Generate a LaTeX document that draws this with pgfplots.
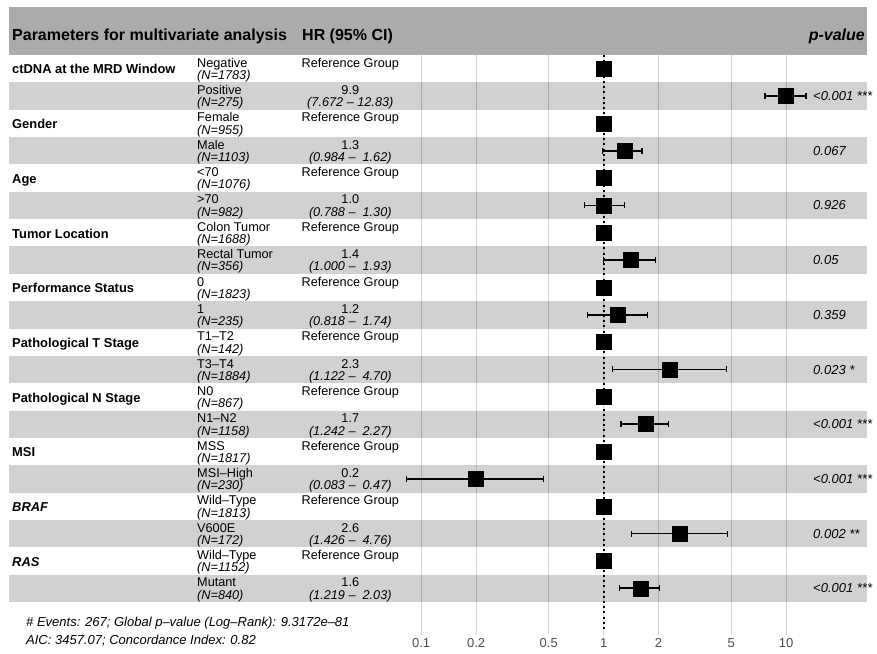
\documentclass[border=0pt]{standalone}
\usepackage{fontspec}
\setmainfont{Liberation Sans}
\usepackage{pgfplots}
\usepackage{pgfplotstable}
\pgfplotsset{compat=1.18}

\definecolor{headgray}{HTML}{ABABAB}
\definecolor{bandgray}{HTML}{D1D1D1}
\definecolor{ticktext}{HTML}{4D4D4D}

% hazard ratio estimates, one line per level (row 1 = top)
\pgfplotstableread{
row hr
1   1
2   9.9
3   1
4   1.3
5   1
6   1.0
7   1
8   1.4
9   1
10  1.2
11  1
12  2.3
13  1
14  1.7
15  1
16  0.2
17  1
18  2.6
19  1
20  1.6
}\hrdata

% layout helpers (1 unit = 1pt, rows 27.35pt tall starting at 55pt)
\newcommand\rt[1]{(55+27.35*(#1-1))}
\newcommand\rowfont{\fontsize{12.7}{14}\selectfont}
\newcommand\variable[2]{\node[anchor=base west,font=\fontsize{12.9}{14}\selectfont\bfseries,inner sep=0] at (12,{-\rt{#1}-18.9}) {#2};}
\newcommand\level[3]{%
  \node[anchor=base west,font=\rowfont,inner sep=0] at (197,{-\rt{#1}-12.2}) {#2};
  \node[anchor=base west,font=\rowfont\itshape,inner sep=0] at (197,{-\rt{#1}-24.5}) {(N=#3)};}
\newcommand\refgroup[1]{\node[anchor=base,font=\rowfont,inner sep=0] at (350.3,{-\rt{#1}-12.2}) {Reference Group};}
\newcommand\estimate[3]{%
  \node[anchor=base,font=\rowfont,inner sep=0] at (350.3,{-\rt{#1}-12.2}) {#2};
  \node[anchor=base,font=\rowfont\itshape,inner sep=0] at (350.3,{-\rt{#1}-24.5}) {(#3)};}
\newcommand\pval[2]{\node[anchor=base west,font=\fontsize{13}{14}\selectfont\itshape,inner sep=0] at (813,{-\rt{#1}-18.2}) {#2};}

\begin{document}
\begin{tikzpicture}[x=1pt,y=1pt]
\useasboundingbox (0,0) rectangle (877,-653);

% header and alternating row bands
\fill[headgray] (9,-7) rectangle (867,-55);
\foreach \i in {2,4,...,20} {
  \fill[bandgray] (9,{-\rt{\i}}) rectangle (867,{-\rt{\i}-27.35});
}

% column headers
\node[anchor=base west,font=\fontsize{16}{18}\selectfont\bfseries,inner sep=0] at (12,-40.7) {Parameters for multivariate analysis};
\node[anchor=base west,font=\fontsize{16}{18}\selectfont\bfseries,inner sep=0] at (302,-40.7) {HR (95\% CI)};
\node[anchor=base east,font=\fontsize{16}{18}\selectfont\bfseries\itshape,inner sep=0] at (865,-40.7) {p-value};

% variables
\variable{1}{ctDNA at the MRD Window}
\variable{3}{Gender}
\variable{5}{Age}
\variable{7}{Tumor Location}
\variable{9}{Performance Status}
\variable{11}{Pathological T Stage}
\variable{13}{Pathological N Stage}
\variable{15}{MSI}
\variable{17}{\itshape BRAF}
\variable{19}{\itshape RAS}

% levels
\level{1}{Negative}{1783}
\level{2}{Positive}{275}
\level{3}{Female}{955}
\level{4}{Male}{1103}
\level{5}{<70}{1076}
\level{6}{>70}{982}
\level{7}{Colon Tumor}{1688}
\level{8}{Rectal Tumor}{356}
\level{9}{0}{1823}
\level{10}{1}{235}
\level{11}{T1–T2}{142}
\level{12}{T3–T4}{1884}
\level{13}{N0}{867}
\level{14}{N1–N2}{1158}
\level{15}{MSS}{1817}
\level{16}{MSI–High}{230}
\level{17}{Wild–Type}{1813}
\level{18}{V600E}{172}
\level{19}{Wild–Type}{1152}
\level{20}{Mutant}{840}

% hazard ratios
\refgroup{1}  \estimate{2}{9.9}{7.672 – 12.83}
\refgroup{3}  \estimate{4}{1.3}{0.984 –\ \ 1.62}
\refgroup{5}  \estimate{6}{1.0}{0.788 –\ \ 1.30}
\refgroup{7}  \estimate{8}{1.4}{1.000 –\ \ 1.93}
\refgroup{9}  \estimate{10}{1.2}{0.818 –\ \ 1.74}
\refgroup{11} \estimate{12}{2.3}{1.122 –\ \ 4.70}
\refgroup{13} \estimate{14}{1.7}{1.242 –\ \ 2.27}
\refgroup{15} \estimate{16}{0.2}{0.083 –\ \ 0.47}
\refgroup{17} \estimate{18}{2.6}{1.426 –\ \ 4.76}
\refgroup{19} \estimate{20}{1.6}{1.219 –\ \ 2.03}

% p-values
\pval{2}{<0.001 ***}
\pval{4}{0.067}
\pval{6}{0.926}
\pval{8}{0.05}
\pval{10}{0.359}
\pval{12}{0.023 *}
\pval{14}{<0.001 ***}
\pval{16}{<0.001 ***}
\pval{18}{0.002 **}
\pval{20}{<0.001 ***}

% model summary
\node[anchor=base west,font=\fontsize{13}{14}\selectfont\itshape,inner sep=0] at (26,-626) {\# Events: 267; Global p–value (Log–Rank): 9.3172e–81};
\node[anchor=base west,font=\fontsize{13}{14}\selectfont\itshape,inner sep=0] at (26,-644) {AIC: 3457.07; Concordance Index: 0.82};

\begin{axis}[
  at={(403.5pt,-55pt)}, anchor=north west,
  scale only axis, width=463.4pt, height=580pt,
  xmode=log, xmin=0.08, xmax=27.7,
  ymin=0.5, ymax=21.71, y dir=reverse,
  clip=false,
  axis line style={draw=none},
  major tick length=0pt,
  ytick=\empty,
  xtick={0.1,0.2,0.5,1,2,5,10},
  xticklabels={0.1,0.2,0.5,1,2,5,10},
  xmajorgrids,
  grid style={black,opacity=0.17,line width=1pt},
  xticklabel style={font=\fontsize{13}{14}\selectfont, text=ticktext},
  /pgf/number format/assume math mode=true,
]
% reference line at HR = 1
\addplot[black, line width=2pt, dash pattern=on 2pt off 3.2pt] coordinates {(1,0.5) (1,21.6)};
% 95% confidence intervals
\addplot[black, line width=1.6pt, mark=|, mark size=3pt, mark options={line width=1.3pt}, unbounded coords=jump] coordinates {
  (7.672,2) (12.83,2) (nan,2)
  (0.984,4) (1.62,4) (nan,4)
  (0.788,6) (1.30,6) (nan,6)
  (1.000,8) (1.93,8) (nan,8)
  (0.818,10) (1.74,10) (nan,10)
  (1.122,12) (4.70,12) (nan,12)
  (1.242,14) (2.27,14) (nan,14)
  (0.083,16) (0.47,16) (nan,16)
  (1.426,18) (4.76,18) (nan,18)
  (1.219,20) (2.03,20)
};
% point estimates
\addplot[only marks, mark=square*, mark size=7.5pt, black] table[x=hr, y=row] {\hrdata};
\end{axis}
\end{tikzpicture}
\end{document}
